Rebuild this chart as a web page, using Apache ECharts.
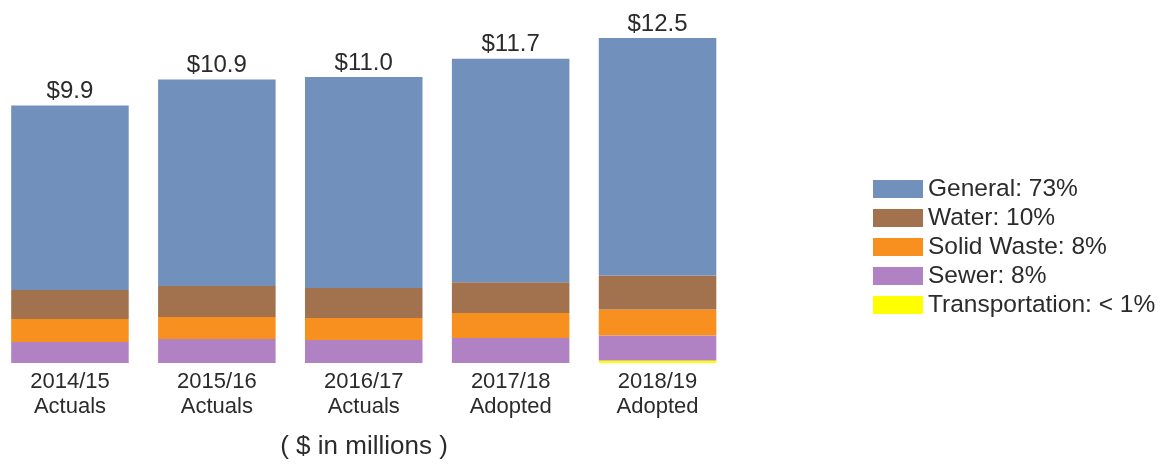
<!DOCTYPE html>
<html><head><meta charset="utf-8">
<script src="https://cdn.jsdelivr.net/npm/echarts@6/dist/echarts.min.js"></script>
<style>html,body{margin:0;padding:0;background:#fff}#c{width:1166px;height:466px}</style>
</head><body><div id="c"></div>
<script>
const categories = ['2014/15\nActuals','2015/16\nActuals','2016/17\nActuals','2017/18\nAdopted','2018/19\nAdopted'];
const totals = [9.9, 10.9, 11.0, 11.7, 12.5];
const transportation = [0, 0, 0, 0, 0.1];
const sewer = [0.81, 0.92, 0.88, 0.96, 0.96];
const solidWaste = [0.88, 0.85, 0.85, 0.96, 1.0];
const water = [1.12, 1.19, 1.15, 1.19, 1.31];
const general = [7.09, 7.94, 8.12, 8.59, 9.13];
const names = ['General: 73%','Water: 10%','Solid Waste: 8%','Sewer: 8%','Transportation: < 1%'];
const colors = {general:'#7290BC', water:'#A2714D', solid:'#F7901E', sewer:'#B082C4', trans:'#FFFF00'};

const font = 'Liberation Sans, Arial, sans-serif';
const ink = '#2b2b2b';
function s(name, data, color, extra){
  return Object.assign({name, type:'bar', stack:'t', data, barCategoryGap:'20%',
    itemStyle:{color}, emphasis:{disabled:true}}, extra||{});
}
const chart = echarts.init(document.getElementById('c'));
chart.setOption({
  animation:false,
  textStyle:{fontFamily:font},
  grid:{left:-3.5, right:435, top:25, bottom:103, outerBoundsMode:'none', containLabel:false},
  xAxis:{type:'category', data:categories,
    axisLine:{show:false}, axisTick:{show:false},
    axisLabel:{color:ink, fontSize:22, lineHeight:25, margin:6, fontFamily:font}},
  yAxis:{type:'value', min:0, max:13, show:false},
  legend:{orient:'vertical', left:868, top:171, itemWidth:50, itemHeight:18, itemGap:3,
    icon:'rect', data:names, textStyle:{color:ink, fontSize:24.5, lineHeight:26, fontFamily:font}, itemStyle:{borderWidth:0}},
  graphic:[{type:'text', style:{text:'( $ in millions )', fill:ink, fontSize:26, fontFamily:font, x:364, y:447, align:'center', verticalAlign:'middle'}}],
  series:[
    s(names[4], transportation, colors.trans),
    s(names[3], sewer, colors.sewer),
    s(names[2], solidWaste, colors.solid),
    s(names[1], water, colors.water),
    s(names[0], general, colors.general, {label:{show:true, position:'top', distance:2, color:ink, fontSize:24, fontFamily:font,
      formatter:p=>'$'+totals[p.dataIndex].toFixed(1)}})
  ]
});
</script></body></html>
